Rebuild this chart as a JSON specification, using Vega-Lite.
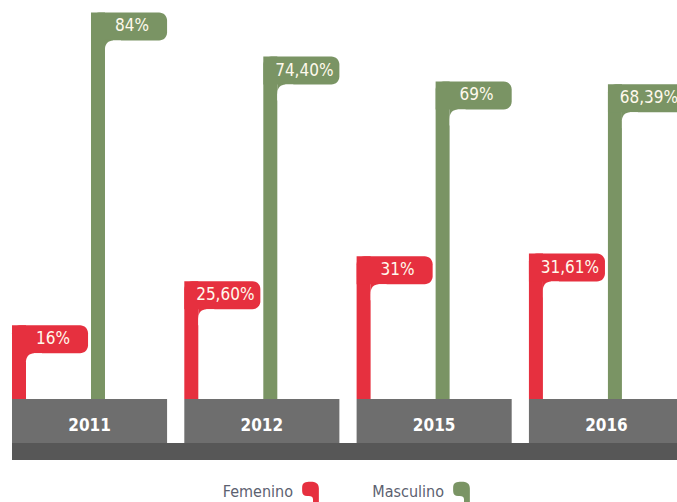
{
  "$schema": "https://vega.github.io/schema/vega-lite/v6.json",
  "width": 665,
  "height": 399,
  "autosize": {"type": "none"},
  "padding": {"left": 12, "top": 0, "right": 0, "bottom": 103},
  "background": "white",
  "config": {"view": {"stroke": null}},
  "resolve": {"scale": {"xOffset": "independent"}},
  "data": {
    "values": [
      {"year": "2011", "gender": "Femenino", "value": 16, "label": "16%"},
      {"year": "2011", "gender": "Masculino", "value": 84, "label": "84%"},
      {"year": "2012", "gender": "Femenino", "value": 25.6, "label": "25,60%"},
      {"year": "2012", "gender": "Masculino", "value": 74.4, "label": "74,40%"},
      {"year": "2015", "gender": "Femenino", "value": 31, "label": "31%"},
      {"year": "2015", "gender": "Masculino", "value": 69, "label": "69%"},
      {"year": "2016", "gender": "Femenino", "value": 31.61, "label": "31,61%"},
      {"year": "2016", "gender": "Masculino", "value": 68.39, "label": "68,39%"}
    ]
  },
  "layer": [
    {
      "transform": [{"filter": "datum.gender == 'Femenino'"}],
      "mark": {"type": "rect", "color": "#6E6E6E", "y2Offset": 44},
      "encoding": {
        "x": {"field": "year", "type": "nominal", "axis": null, "scale": {"range": [0, 672], "paddingInner": 0.1, "paddingOuter": 0}},
        "y": {"datum": 0, "type": "quantitative", "axis": null, "scale": {"domain": [0, 86.7], "nice": false, "zero": true}},
        "y2": {"datum": 0}
      }
    },
    {
      "transform": [{"filter": "datum.gender == 'Femenino' && datum.year == '2011'"}],
      "mark": {"type": "rule", "color": "#575757", "strokeWidth": 17, "yOffset": 52.5},
      "encoding": {
        "y": {"datum": 0, "type": "quantitative"}
      }
    },
    {
      "mark": {"type": "bar"},
      "encoding": {
        "x": {"field": "year", "type": "nominal", "axis": null},
        "xOffset": {"field": "gender", "type": "nominal", "scale": {"paddingInner": 0.8228, "paddingOuter": 0.3929, "align": 0}},
        "y": {"field": "value", "type": "quantitative"},
        "color": {
          "field": "gender", "type": "nominal",
          "scale": {"domain": ["Femenino", "Masculino"], "range": ["#E6303F", "#7A9464"]},
          "legend": {
            "title": null, "orient": "none", "direction": "horizontal",
            "legendX": 290, "legendY": 483,
            "symbolType": "M-1,-0.5 C-1,-1.1 -0.6,-1.2 0,-1.2 C0.6,-1.2 1,-1 1,-0.4 L1,1.3 L0.3,1.3 L0.3,0.9 C0.3,0.6 0.1,0.5 -0.2,0.5 L-0.4,0.5 C-0.8,0.5 -1,0.3 -1,-0.1 Z",
            "symbolSize": 280, "symbolStrokeWidth": 0, "symbolOpacity": 1,
            "labelAlign": "right", "labelOffset": -26,
            "labelFont": "DejaVu Sans Condensed, sans-serif",
            "labelFontSize": 16, "labelColor": "#5C6170",
            "columnPadding": 53
          }
        }
      }
    },
    {
      "mark": {"type": "rect", "cornerRadiusTopLeft": 8, "cornerRadiusTopRight": 8, "cornerRadiusBottomRight": 8, "cornerRadiusBottomLeft": 0, "y2Offset": 28},
      "encoding": {
        "x": {"field": "year", "type": "nominal", "axis": null},
        "xOffset": {"field": "gender", "type": "nominal", "scale": {"paddingInner": 0.038, "paddingOuter": 0, "align": 0}},
        "y": {"field": "value", "type": "quantitative"},
        "y2": {"field": "value"},
        "color": {"field": "gender", "type": "nominal", "legend": null}
      }
    },
    {
      "mark": {"type": "bar", "yOffset": 27, "y2Offset": 37},
      "encoding": {
        "x": {"field": "year", "type": "nominal", "axis": null},
        "xOffset": {"field": "gender", "type": "nominal", "scale": {"paddingInner": 0.8987, "paddingOuter": 0.4309, "align": 0.2056}},
        "y": {"field": "value", "type": "quantitative"},
        "y2": {"field": "value"},
        "color": {"field": "gender", "type": "nominal", "legend": null}
      }
    },
    {
      "mark": {"type": "bar", "yOffset": 28, "y2Offset": 44, "color": "white", "cornerRadiusTopLeft": 8},
      "encoding": {
        "x": {"field": "year", "type": "nominal", "axis": null},
        "xOffset": {"field": "gender", "type": "nominal", "scale": {"paddingInner": 0.7975, "paddingOuter": 0.3803, "align": 0.233}},
        "y": {"field": "value", "type": "quantitative"},
        "y2": {"field": "value"}
      }
    },
    {
      "mark": {"type": "text", "yOffset": 14, "baseline": "middle", "align": "center", "color": "#FFF9EC", "font": "DejaVu Sans Condensed, sans-serif", "fontSize": 17},
      "encoding": {
        "x": {"field": "year", "type": "nominal", "axis": null},
        "xOffset": {"field": "gender", "type": "nominal", "scale": {"type": "point", "range": [41, 120], "padding": 0}},
        "y": {"field": "value", "type": "quantitative"},
        "text": {"field": "label"}
      }
    },
    {
      "transform": [{"filter": "datum.gender == 'Femenino'"}],
      "mark": {"type": "text", "yOffset": 27, "baseline": "middle", "align": "center", "color": "#FFFFFF", "font": "DejaVu Sans Condensed, sans-serif", "fontSize": 17, "fontWeight": "bold"},
      "encoding": {
        "x": {"field": "year", "type": "nominal", "axis": null},
        "y": {"datum": 0, "type": "quantitative"},
        "text": {"field": "year"}
      }
    }
  ]
}
